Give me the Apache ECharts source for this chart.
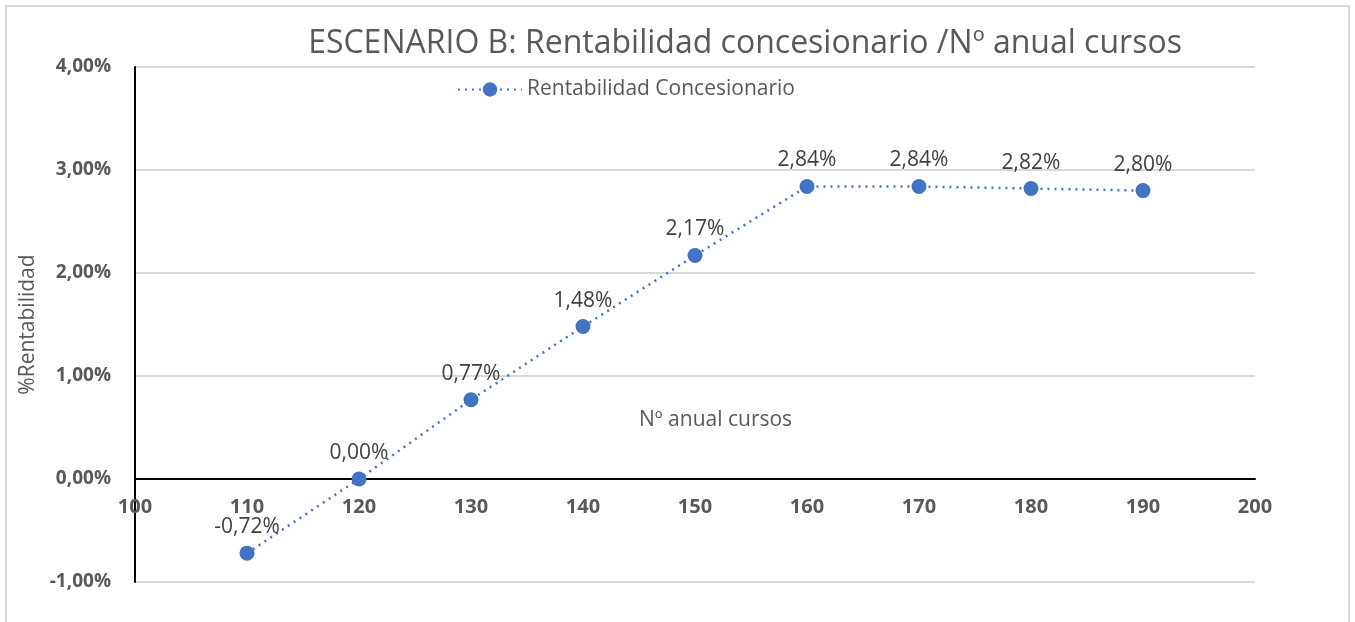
<!DOCTYPE html>
<html>
<head>
<meta charset="utf-8">
<script src="https://cdn.jsdelivr.net/npm/echarts@6/dist/echarts.min.js"></script>
<style>
  html, body { margin: 0; padding: 0; background: #fff; }
  #main { width: 1355px; height: 622px; }
</style>
</head>
<body>
<div id="main"></div>
<script>
// nº anual cursos
const cursos = [110, 120, 130, 140, 150, 160, 170, 180, 190];
// rentabilidad (%)
const rentabilidad = [-0.72, 0.00, 0.77, 1.48, 2.17, 2.84, 2.84, 2.82, 2.80];

const seriesName = 'Rentabilidad Concesionario';
const fontFam = '"Open Sans", "Noto Sans", sans-serif';
const grey = '#595959';
const blue = '#4472C4';

const fmt = (v) => v.toFixed(2).replace('.', ',') + '%';

const chart = echarts.init(document.getElementById('main'));
chart.setOption({
  animation: false,
  textStyle: { fontFamily: fontFam },
  title: {
    text: 'ESCENARIO B: Rentabilidad concesionario /Nº anual cursos',
    left: 740,
    textAlign: 'center',
    top: 23,
    textStyle: { fontSize: 32, fontWeight: 'normal', color: grey, fontFamily: fontFam }
  },
  legend: {
    data: [seriesName],
    left: 452,
    top: 74,
    itemWidth: 64,
    itemHeight: 18,
    itemGap: 12,
    textStyle: { fontSize: 21, color: grey, fontFamily: fontFam }
  },
  graphic: [
    {
      type: 'rect',
      shape: { x: 6, y: 6, width: 1343, height: 640 },
      style: { fill: 'none', stroke: '#d9d9d9', lineWidth: 2 },
      silent: true
    },
    {
      type: 'text',
      left: 639,
      top: 410,
      style: { text: 'Nº anual cursos', fontSize: 21, fill: grey, fontFamily: fontFam }
    }
  ],
  grid: { left: 135, right: 100, top: 67, bottom: 40 },
  xAxis: {
    type: 'value',
    min: 100,
    max: 200,
    interval: 10,
    offset: -103, // axis drawn at the 0% line
    axisLine: { onZero: false, lineStyle: { color: '#000', width: 2 } },
    axisTick: { show: false },
    splitLine: { show: false },
    axisLabel: { fontSize: 20, fontWeight: 'bold', color: grey, margin: 18, fontFamily: fontFam }
  },
  yAxis: {
    type: 'value',
    min: -1,
    max: 4,
    interval: 1,
    name: '%Rentabilidad',
    nameLocation: 'middle',
    nameGap: 93,
    nameTextStyle: { fontSize: 21, color: grey, fontFamily: fontFam },
    axisLine: { show: true, lineStyle: { color: '#000', width: 2 } },
    axisTick: { show: false },
    splitLine: { lineStyle: { color: '#d9d9d9', width: 2 } },
    axisLabel: { fontSize: 19, fontWeight: 'bold', color: grey, margin: 24, formatter: fmt, fontFamily: fontFam }
  },
  series: [{
    name: seriesName,
    type: 'line',
    data: cursos.map((c, i) => [c, rentabilidad[i]]),
    symbol: 'circle',
    symbolSize: 15,
    itemStyle: { color: blue },
    lineStyle: { color: blue, width: 2.5, type: [2, 5] },
    label: {
      show: true,
      position: 'top',
      distance: 8,
      fontSize: 21,
      color: '#404040',
      fontFamily: fontFam,
      formatter: (p) => fmt(p.value[1])
    }
  }]
});
</script>
</body>
</html>
